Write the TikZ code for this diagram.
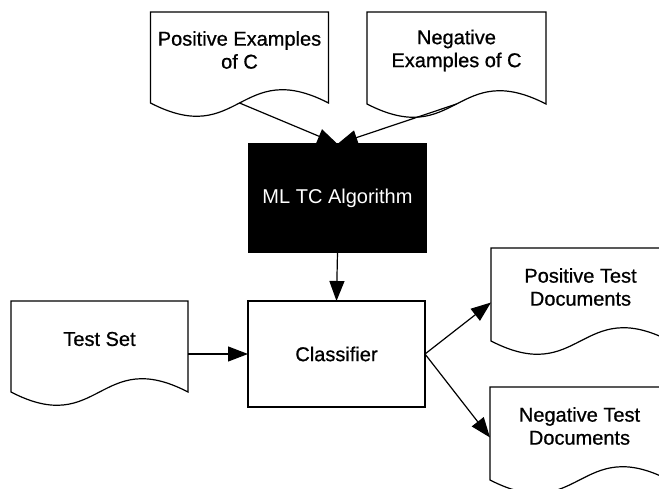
\documentclass[tikz,border=0pt]{standalone}
\usepackage{fontspec}
\setmainfont{Liberation Sans}
\newfontfamily\heavysans{Liberation Sans}[FakeBold=0.8]
\usetikzlibrary{arrows.meta,calc}

\tikzset{
  outline/.style={draw=black, line width=1.2pt},
  docbody/.style={rectangle, inner sep=0pt, outer sep=0pt},
  doctext/.style={align=center, inner sep=0pt,
    font=\heavysans\fontsize{20}{23}\selectfont},
  procbox/.style={outline, rectangle, inner sep=0pt, outer sep=0pt, fill=white,
    font=\heavysans\fontsize{20}{23}\selectfont},
  algbox/.style={procbox, fill=black, text=white,
    font=\fontsize{20}{23}\selectfont},
  flow/.style={line width=1.2pt, -{Triangle[length=20pt, width=15pt]}},
}

% Flowchart "document" symbol: a body node named #1 with a wavy bottom edge.
% #1 name, #2 centre x, #3 top y, #4 width, #5 side height, #6 text
\newcommand{\flowdoc}[6]{%
  \node[docbody, minimum width=#4pt, minimum height=#5pt, anchor=north]
    (#1) at (#2,#3) {};
  \draw[outline] (#1.north west) -- (#1.north east) -- (#1.south east)
    .. controls ($(#1.south)+(0,-46)$) and ($(#1.south)+(0,46)$) ..
    (#1.south west) -- cycle;
  \node[doctext] (#1-label) at ([yshift=7.5pt]#1.center) {#6};
}

\begin{document}
\begin{tikzpicture}[x=1pt, y=-1pt]
  \useasboundingbox (0,0) rectangle (659,489);
  \clip (0,0) rectangle (659,489);

  % inputs of the learner
  \flowdoc{posex}{239.5}{12}{178}{91}{Positive Examples\\of C}
  \flowdoc{negex}{456.5}{12}{179}{92}{Negative\\Examples of C}

  % learner and classifier
  \node[algbox, minimum width=177pt, minimum height=108pt] (alg)
    at (337.5,198) {ML TC Algorithm};
  \node[procbox, minimum width=177pt, minimum height=106pt] (cls)
    at (336.5,354) {Classifier};

  % test data and the two output sets
  \flowdoc{tset}{99.5}{301}{177}{91}{Test Set}
  \flowdoc{ptest}{580.5}{248}{179}{93}{Positive Test\\Documents}
  \flowdoc{ntest}{579.5}{387}{179}{93}{Negative Test\\Documents}

  % connectors
  \draw[flow] (posex.south) -- (alg.north);
  \draw[flow] (negex.south) -- (alg.north);
  \draw[flow] (alg.south) -- (cls.north);
  \draw[flow] (cls.west -| tset.east) -- (cls.west);
  \draw[flow] (cls.east) -- ([yshift=-8pt]ptest.west);
  \draw[flow] (cls.east) -- ([yshift=-4pt]ntest.west);
\end{tikzpicture}
\end{document}
